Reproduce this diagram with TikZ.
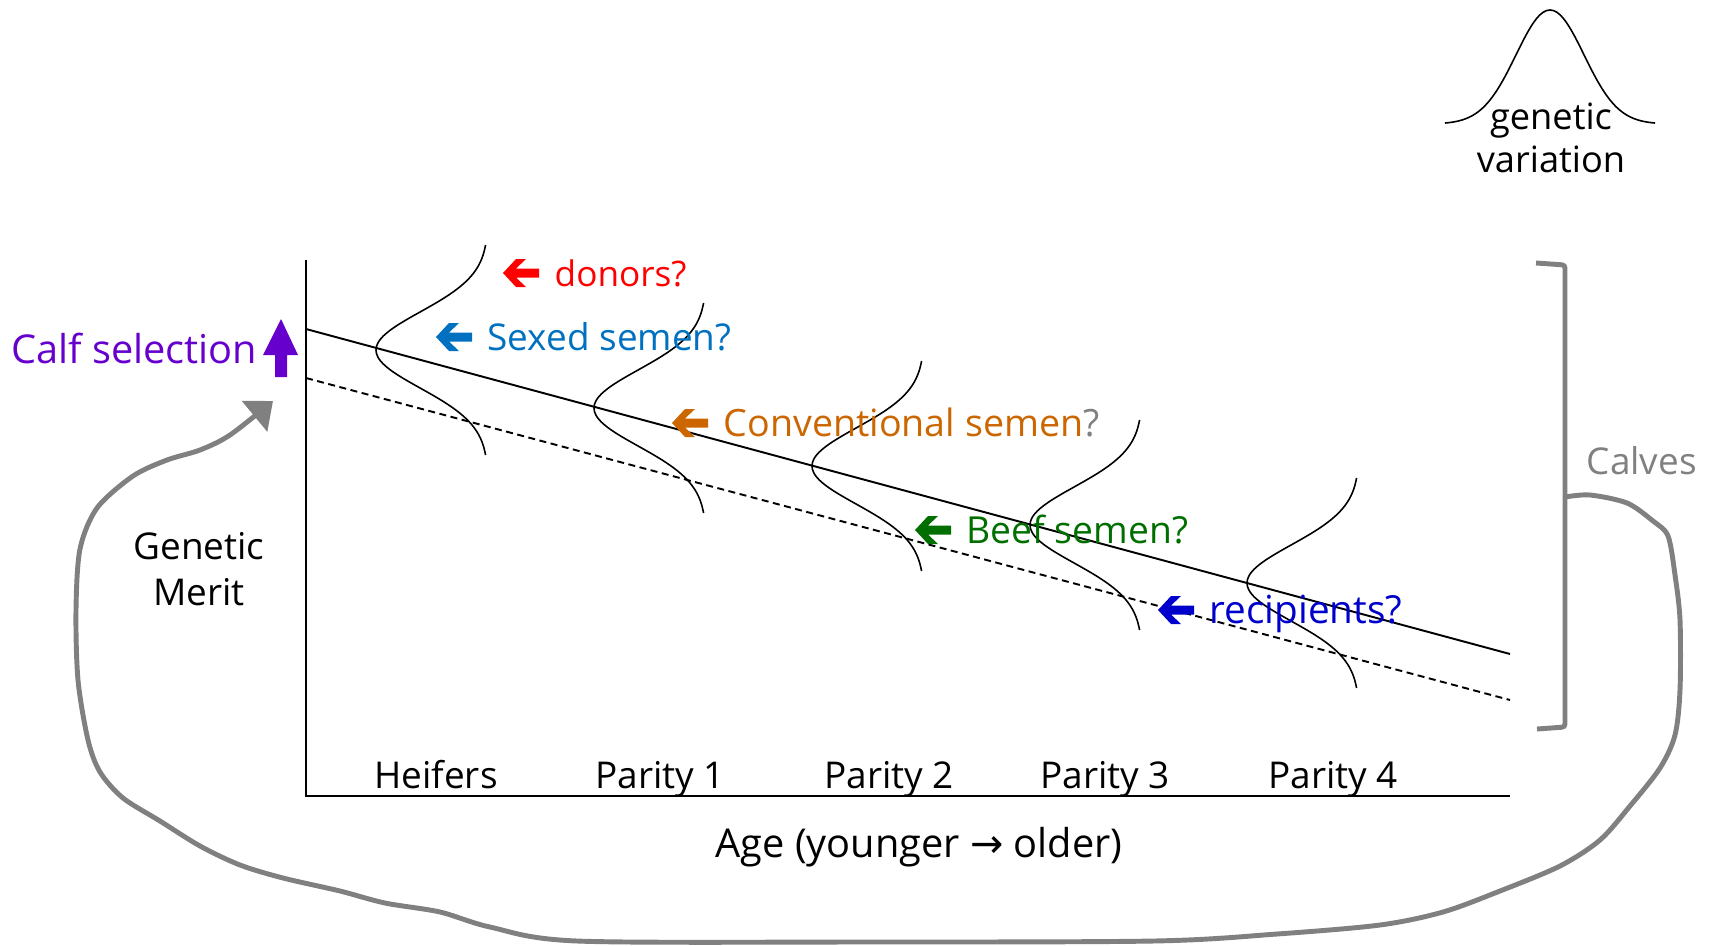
\documentclass[tikz,border=0pt]{standalone}
\usepackage{fontspec}
\setmainfont{Open Sans}
\newfontfamily\arrowfont{DejaVu Sans}
\usetikzlibrary{arrows.meta}
\definecolor{donorred}{HTML}{FF0000}
\definecolor{sexedblue}{HTML}{0070C0}
\definecolor{convorange}{HTML}{CC6600}
\definecolor{beefgreen}{HTML}{006F00}
\definecolor{recipblue}{HTML}{0000CC}
\definecolor{selpurple}{HTML}{6600CC}
\definecolor{calfgray}{HTML}{808080}
\tikzset{
  txt/.style={font=\fontsize{10.5}{13}\selectfont, inner sep=0pt},
  bigtxt/.style={font=\fontsize{11.3}{14}\selectfont, inner sep=0pt},
  axis/.style={line width=0.55pt},
  bell/.style={line width=0.45pt},
  calfline/.style={draw=calfgray, line width=1.4pt},
  pointer/.pic={\fill (0,0) -- (13,-14) -- (23,-14) -- (13,-4.5) -- (36,-4.5) -- (36,4.5) -- (13,4.5) -- (23,14) -- (13,14) -- cycle;}
}
\begin{document}
\begin{tikzpicture}[x=0.01cm, y=-0.01cm]
        \useasboundingbox (0,0) rectangle (1721,945);
        \coordinate (O) at (306,796); \coordinate (Ytop) at (306,260);
        \coordinate (Xend) at (1510,796);
        \coordinate (S0) at (306,329); \coordinate (S1) at (1510,654);
        \coordinate (D0) at (306,378); \coordinate (D1) at (1510,700);
        \draw[axis] (Ytop) -- (O) -- (Xend);
        \draw[axis] (S0) -- (S1);
        \draw[axis, dash pattern=on 0.07cm off 0.045cm] (D0) -- (D1);
        \foreach \tx/\py in {488/350, 706/408, 924/466, 1142/525, 1359/583}
            \draw[bell] plot[domain=-105:105, samples=61, smooth] ({\tx-112*exp(-0.5*(\x/38)^2)}, {\py+\x});
        \draw[bell] plot[domain=-105:105, samples=61, smooth] ({1550+\x}, {124-114*exp(-0.5*(\x/34)^2)});
        \node[txt, align=center, font=\fontsize{10.3}{12.4}\selectfont] (variation) at (1551,138) {genetic\\variation};
        \foreach \nm/\tx/\ty/\col/\fs/\txt in {donors/503/273/donorred/10/donors?, sexed/436/337/sexedblue/10.5/Sexed semen?, conv/672/423/convorange/10.7/{Conventional semen\textcolor{calfgray}{?}}, beef/915/530/beefgreen/10.6/Beef semen?, recip/1158/610/recipblue/11/recipients?}
        {
            \pic[color=\col] at (\tx,\ty) {pointer};
            \node[txt, font=\fontsize{\fs}{13}\selectfont, text=\col, anchor=base west] (\nm) at (\tx+51,\ty+13) {\txt};
        }
        \foreach \lab/\lx [count=\i] in {Heifers/436, Parity 1/660, Parity 2/889, Parity 3/1105, Parity 4/1333}
            \node[txt, anchor=base] (grp\i) at (\lx,788) {\lab};
        \node[bigtxt, anchor=base] (age) at (919,857) {Age (younger {\arrowfont →} older)};
        \node[txt, align=center] (merit) at (199,569) {Genetic\\Merit};
        \node[bigtxt, text=selpurple, anchor=base east] (calfsel) at (258,363) {Calf selection};
        \fill[selpurple] (275,377) -- (287,377) -- (287,355) -- (298,355) -- (281,319) -- (263,355) -- (275,355) -- cycle;
        \draw[calfline, rounded corners=0.03cm] (1536,263) -- (1565,265) -- (1565,727) -- (1537,729);
        \node[txt, text=calfgray, anchor=base west] (calves) at (1586,474) {Calves};
        \coordinate (notch) at (1565,497); \coordinate (looptip) at (273,401);
        \draw[calfline, -{Triangle[length=0.24cm, width=0.39cm]}] plot[smooth, tension=0.5] coordinates {(notch) (1590,495) (1627,503) (1653,521) (1668,536) (1675,575) (1680,620) (1680,690) (1675,735) (1660,768) (1630,806) (1600,840) (1560,866) (1500,891) (1443,912) (1380,925) (1277,934) (1154,941) (860,942) (577,941) (490,927) (440,912) (385,903) (340,891) (283,878) (240,865) (200,846) (160,821) (123,798) (100,772) (88,740) (78,680) (76,610) (80,549) (97,508) (133,476) (167,460) (200,450) (230,435) (looptip)};
    \end{tikzpicture}
\end{document}
